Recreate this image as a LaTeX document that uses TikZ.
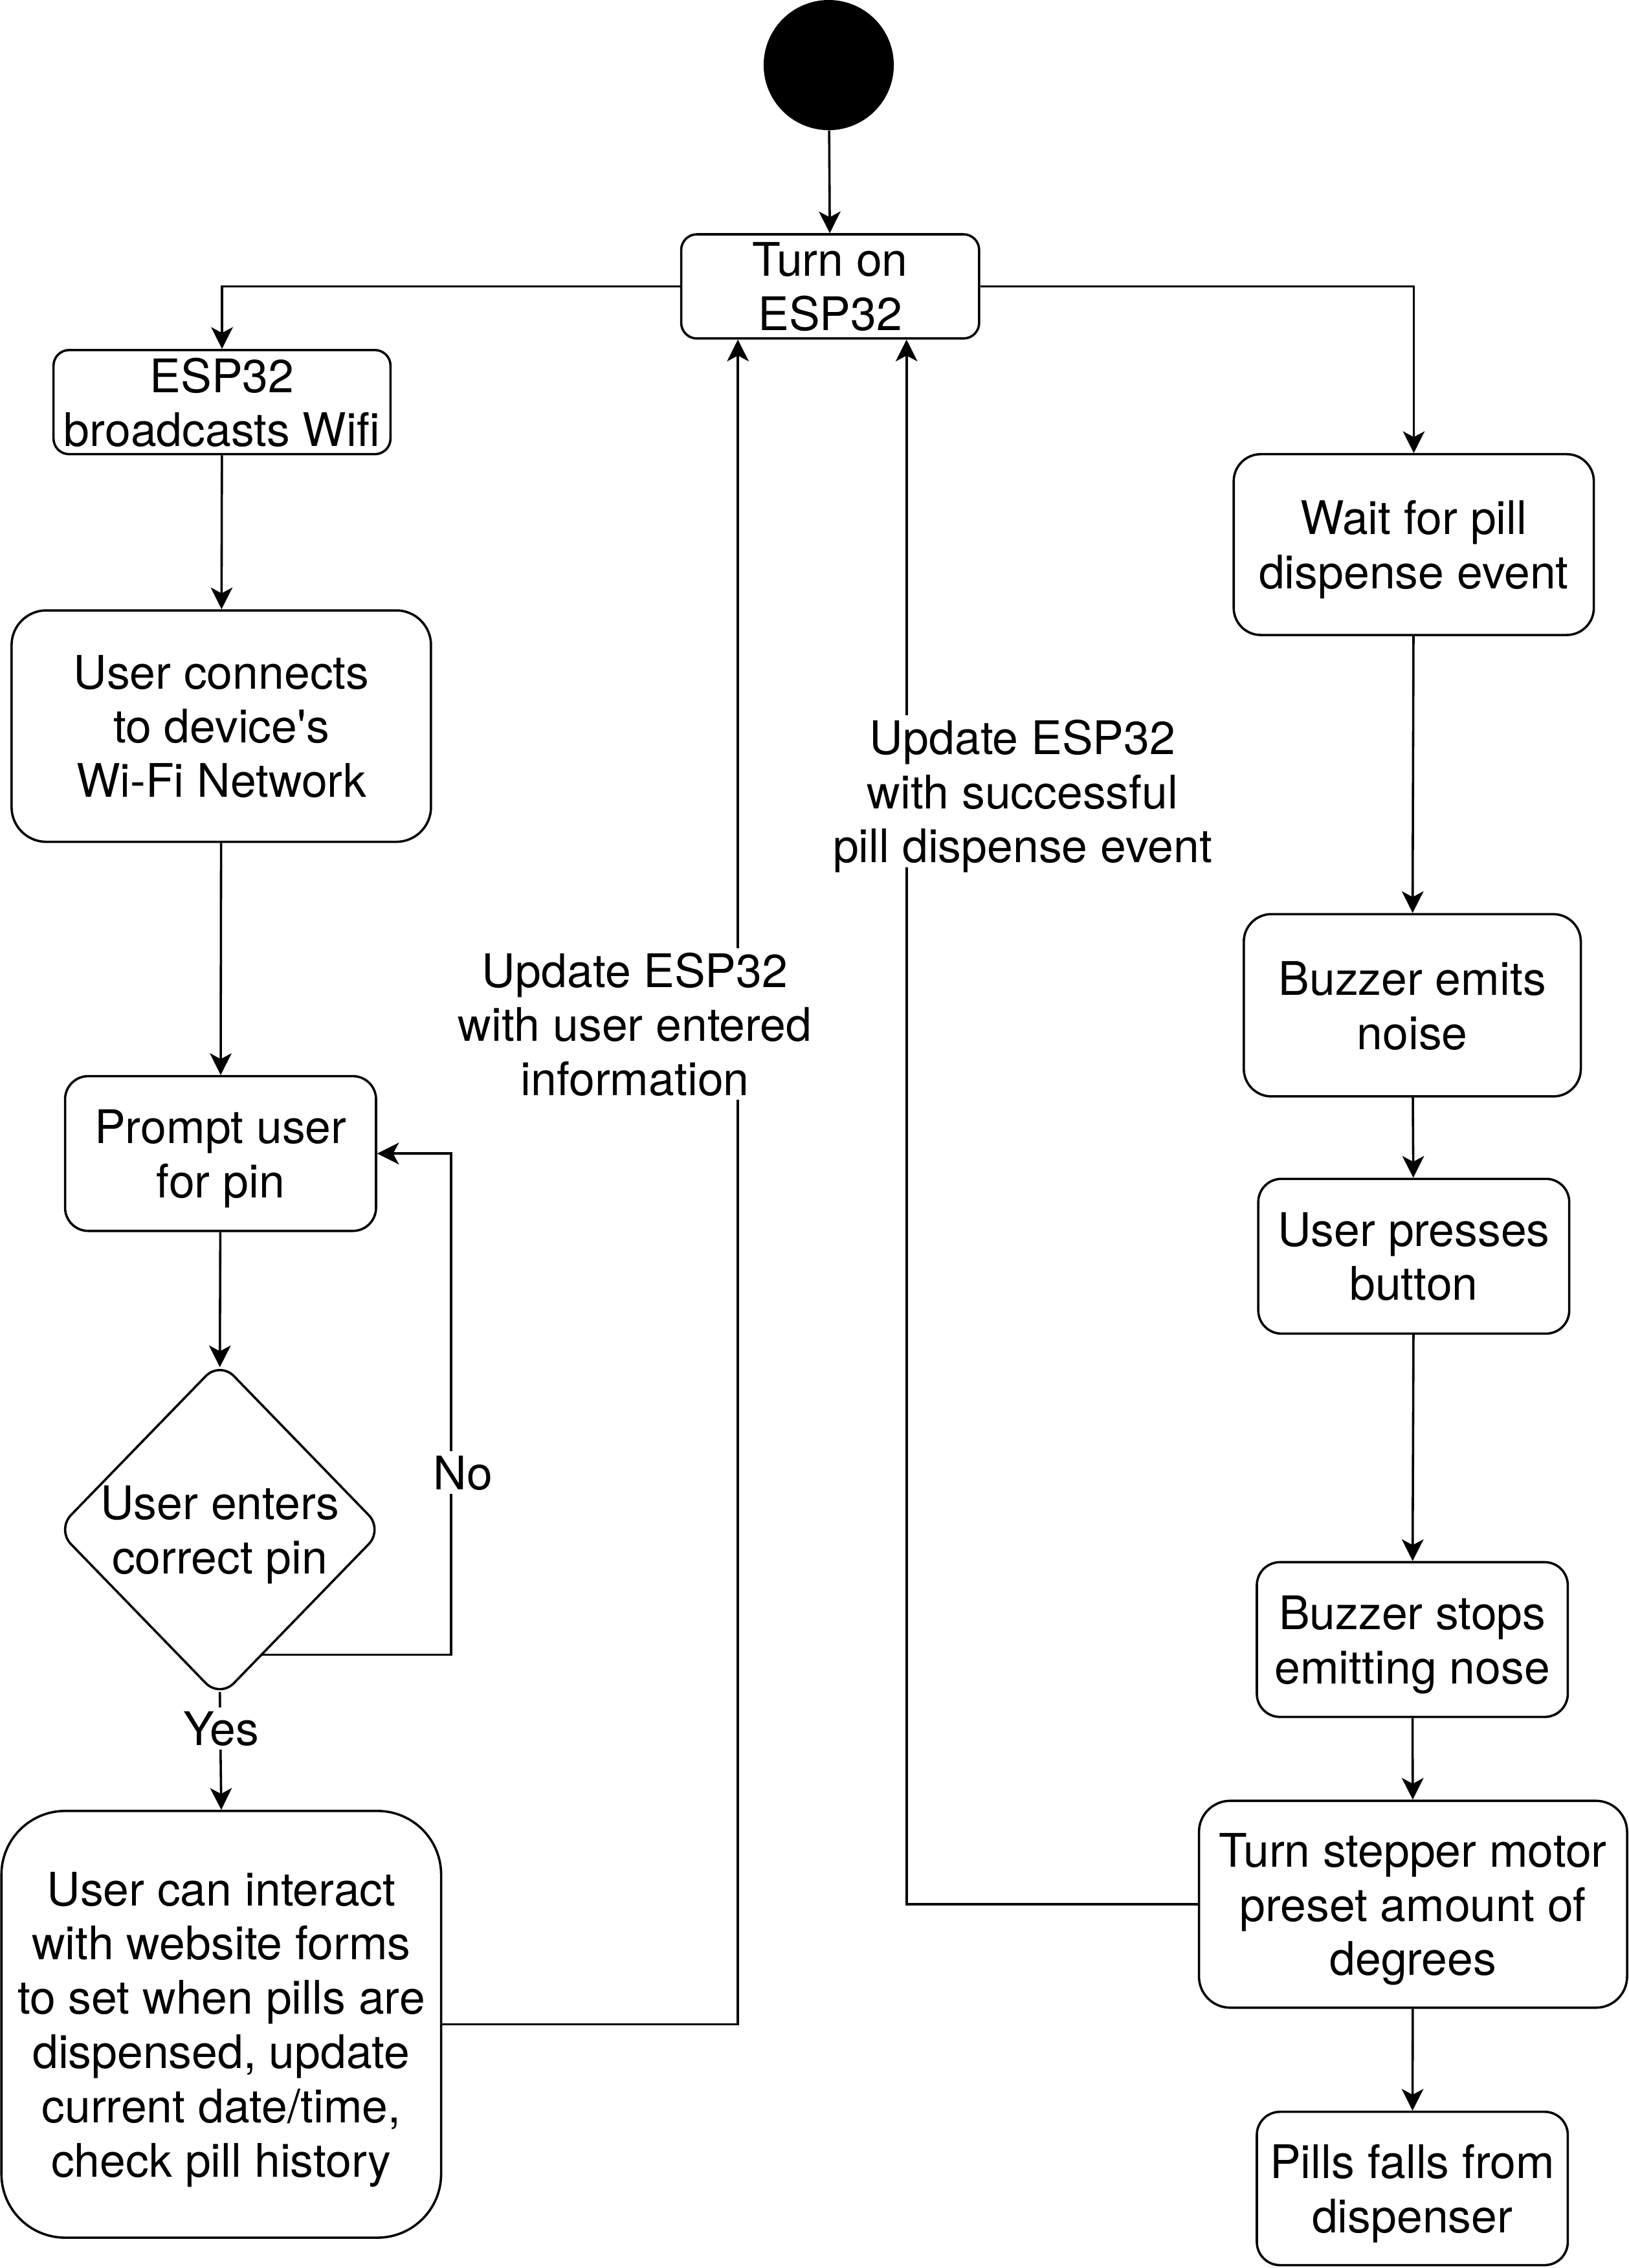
\documentclass[tikz,border=0pt]{standalone}
\usepackage{fontspec}
\setmainfont{TeX Gyre Heros}
\newfontfamily\qfont{TeX Gyre Heros}
\usetikzlibrary{arrows.meta,shapes.geometric,calc}
\begin{document}
\begin{tikzpicture}[x=1pt,y=-1pt,
  every node/.style={font=\fontsize{32}{37.5}\selectfont, align=center, inner sep=0pt, text depth=0pt},
  rbox/.style n args={3}{draw, line width=1.6pt, rectangle, rounded corners=#3, minimum width=#1, minimum height=#2},
  dia/.style={draw, line width=1.6pt, diamond, rounded corners=14pt, minimum width=226pt, minimum height=233pt},
  arr/.style={line width=1.6pt, -{Stealth[length=15pt,width=15pt,inset=4pt]}},
  lbl/.style={fill=white, inner sep=3pt}]
\useasboundingbox (0,0) rectangle (1126,1568);
\fill[white] (0,0) rectangle (1126,1568);

\node[circle, fill=black, minimum size=90pt] (start) at (573,45) {};
\node[rbox={206pt}{72pt}{10.8pt}] (turnon) at (574,198) {Turn on\\ESP32};
\node[rbox={233pt}{72pt}{10.8pt}] (bcast) at (153.5,278) {ESP32\\broadcasts Wifi};
\node[rbox={249pt}{125pt}{18.7pt}] (wait) at (977.5,376.5) {Wait for pill\\dispense event};
\node[rbox={290pt}{160pt}{24pt}] (connect) at (153,502) {User connects\\to device{\qfont'}s\\Wi-Fi Network};
\node[rbox={215pt}{107pt}{16pt}] (prompt) at (152.5,797.5) {Prompt user\\for pin};
\node[dia] (d) at (152,1057.5) {};
\node (dtext) at (d.center) {User enters\\correct pin};
\node[rbox={304pt}{295pt}{44pt}] (interact) at (153,1399.5) {User can interact\\with website forms\\to set when pills are\\dispensed, update\\current date/time,\\check pill history};
\node[rbox={233pt}{126pt}{19pt}] (emits) at (976.5,695) {Buzzer emits\\noise};
\node[rbox={215pt}{107pt}{16pt}] (presses) at (977.5,868.5) {User presses\\button};
\node[rbox={215pt}{107pt}{16pt}] (stops) at (976.5,1133.5) {Buzzer stops\\emitting nose};
\node[rbox={296pt}{143pt}{21.5pt}] (stepper) at (977,1316.5) {Turn stepper motor\\preset amount of\\degrees};
\node[rbox={215pt}{106pt}{16pt}] (pills) at (976.5,1513) {Pills falls from\\dispenser};

\coordinate (dexit) at ($(d.east)!0.75!(d.south)$);
\coordinate (noC) at (312,1144);
\coordinate (in1) at ($(turnon.south west)+(40,0)$);
\coordinate (in2) at ($(turnon.south east)+(-51,0)$);

\draw[arr] (start) -- (turnon);
\draw[arr] (turnon.west) -| (bcast.north);
\draw[arr] (turnon.east) -| (wait.north);
\draw[arr] (bcast) -- (connect);
\draw[arr] (connect) -- (prompt);
\draw[arr] (prompt) -- ($(d.north)+(0,5)$);
\draw[arr] (dexit |- noC) -- (noC) |- (prompt.east);
\draw[arr] ($(d.south)+(0,-5)$) -- (interact.north);
\draw[arr] (interact.east) -| (in1);
\draw[arr] (stepper.west) -| (in2);
\draw[arr] (wait) -- (emits);
\draw[arr] (emits) -- (presses);
\draw[arr] (presses) -- (stops);
\draw[arr] (stops) -- (stepper);
\draw[arr] (stepper) -- (pills);

\node[lbl] (lno) at (320,1018) {No};
\node[lbl] (lyes) at (153,1195) {Yes};
\node[lbl] (lup1) at (439,708) {Update ESP32\\with user entered\\information};
\node[lbl] (lup2) at (707,547) {Update ESP32\\with successful\\pill dispense event};
\end{tikzpicture}
\end{document}
